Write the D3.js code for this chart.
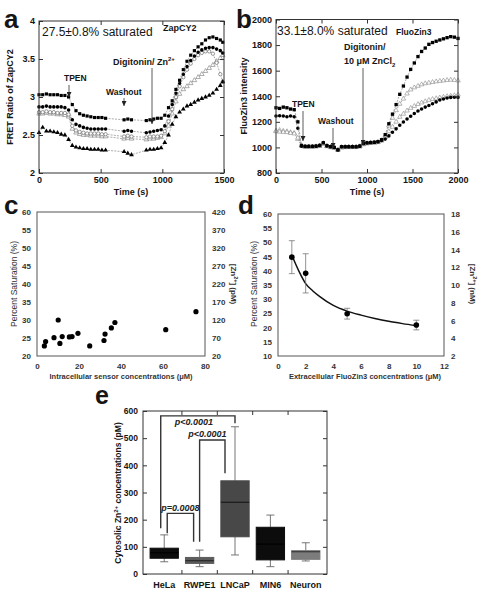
<!DOCTYPE html>
<html><head><meta charset="utf-8">
<script src="https://cdn.jsdelivr.net/npm/d3@7"></script>
<style>body{margin:0;background:#fff}svg{display:block}</style>
</head><body><script>
// ---------- DATA ----------
// Panel a: ZapCY2 FRET ratio traces
const aTime = [0,30,60,90,120,150,180,210,240,270,300,330,360,390,420,450,480,510,540,570,600,630,660,690,720,750,780,810,840,870,900,930,960,990,1020,1050,1080,1110,1140,1170,1200,1230,1260,1290,1320,1350,1380,1410,1440,1470,1490];
const aSquares = [3.03,3.03,3.04,3.03,3.03,3.03,3.02,3.02,3.0,2.9,2.82,2.78,2.76,2.75,2.74,2.73,2.73,2.73,2.72,null,null,null,null,2.70,2.71,2.70,null,null,null,2.69,2.70,2.71,2.72,2.72,2.76,2.86,2.95,3.1,3.22,3.36,3.47,3.55,3.61,3.66,3.7,3.75,3.78,3.79,3.77,3.75,3.72];
const aCircles = [2.87,2.87,2.88,2.87,2.87,2.87,2.87,2.86,2.83,2.70,2.64,2.62,2.60,2.59,2.58,2.58,2.58,2.58,2.58,null,null,null,null,2.55,2.56,2.55,null,null,null,2.53,2.54,2.55,2.56,2.57,2.62,2.75,2.9,3.05,3.18,3.3,3.4,3.48,3.54,3.59,3.62,3.64,3.65,3.65,3.63,3.61,3.58];
const aOpenCircles = [2.80,2.80,2.81,2.80,2.80,2.79,2.79,2.79,2.77,2.62,2.56,2.54,2.53,2.52,2.52,2.52,2.52,2.51,2.51,null,null,null,null,2.48,2.49,2.48,null,null,null,2.47,2.48,2.48,2.48,2.49,2.55,2.68,2.84,3.0,3.14,3.26,3.36,3.44,3.5,3.55,3.58,3.6,3.6,3.57,3.45,3.3,3.2];
const aOpenTriangles = [2.78,2.78,2.79,2.78,2.78,2.77,2.77,2.76,2.74,2.58,2.53,2.51,2.50,2.50,2.49,2.49,2.49,2.48,2.48,null,null,null,null,2.45,2.46,2.45,null,null,null,2.44,2.45,2.45,2.46,2.47,2.52,2.62,2.78,2.94,3.04,3.1,3.14,3.18,3.22,3.26,3.3,3.34,3.38,3.42,3.47,3.51,3.55];
const aTriangles = [2.53,2.60,2.55,2.55,2.54,2.53,2.51,2.50,2.44,2.36,2.34,2.33,2.32,2.32,2.31,2.31,2.31,2.30,2.30,null,null,null,null,2.28,2.26,2.24,null,null,null,2.30,2.31,2.31,2.32,2.33,2.40,2.50,2.64,2.74,2.8,2.84,2.88,2.9,2.93,2.96,2.98,3.0,3.02,3.05,3.1,3.15,3.2];
const aXTicks = [0,500,1000,1500];
const aYTicks = [2,2.5,3,3.5,4];

// Panel b: FluoZin3 intensity traces
const bTime = [0,40,80,120,160,200,240,280,320,360,400,440,480,520,560,600,640,680,720,760,800,840,880,920,960,1000,1040,1080,1120,1160,1200,1240,1280,1320,1360,1400,1440,1480,1520,1560,1600,1640,1680,1720,1760,1800,1840,1880,1920,1960,2000];
const bTop = [1310,1305,1315,1310,1300,1295,1200,1015,1008,1008,1008,1010,1015,1035,1012,1005,1000,980,1005,1005,1005,1005,1005,1010,1030,1035,1038,1040,1045,1060,1100,1185,1260,1335,1415,1480,1550,1610,1660,1710,1750,1777,1806,1820,1830,1840,1849,1858,1866,1862,1852];
const bGrayHigh = [1130,1135,1128,1125,1118,1112,1065,1012,1005,1005,1006,1008,1012,1030,1010,1003,998,982,1000,1002,1003,1003,1003,1008,1025,1032,1035,1037,1042,1055,1090,1170,1230,1290,1340,1380,1420,1452,1468,1480,1492,1500,1505,1510,1515,1519,1522,1526,1528,1526,1522];
const bGrayLow = [1125,1122,1120,1118,1112,1108,1075,1015,1003,1003,1004,1006,1010,1026,1008,1000,995,980,998,1000,1001,1001,1001,1006,1023,1030,1033,1035,1040,1052,1080,1125,1160,1200,1238,1262,1287,1308,1323,1338,1350,1360,1370,1377,1383,1389,1394,1399,1403,1407,1412];
const bBlackLow = [1245,1248,1245,1240,1245,1240,1150,1010,1008,1008,1008,1010,1016,1038,1014,1006,1000,982,1006,1006,1006,1006,1006,1010,1030,1036,1038,1040,1044,1055,1065,1090,1118,1145,1173,1198,1222,1244,1265,1284,1300,1315,1328,1342,1356,1370,1378,1386,1391,1392,1391];
const bXTicks = [0,500,1000,1500,2000];
const bYTicks = [800,1000,1200,1400,1600,1800,2000];

// Panel c: percent saturation vs intracellular sensor concentration
const cX = [3.5,4.1,8.1,10.1,10.9,12.0,15.4,16.7,19.5,25.1,31.9,32.4,35.4,37.1,61.3,75.7];
const cY = [22.8,24.0,25.1,30.0,23.5,25.4,25.3,25.4,26.3,22.8,24.3,26.1,27.8,29.3,27.3,32.3];
const cXTicks = [0,20,40,60,80];
const cYTicks = [20,25,30,35,40,45,50,55,60];
const cY2Ticks = [20,70,120,170,220,270,320,370,420];

// Panel d: percent saturation vs extracellular FluoZin3
const dX = [1,2,5,10];
const dY = [44.8,39.1,24.9,20.9];
const dErr = [5.8,6.9,1.9,1.7];
const dFitX = [1,1.5,2,2.5,3,4,5,6,7,8,9,10];
const dFitY = [45.5,40,35.5,33,31,27.8,25.8,24.4,23.2,22.2,21.4,20.7];
const dXTicks = [0,2,4,6,8,10,12];
const dYTicks = [10,15,20,25,30,35,40,45,50,55,60];
const dY2Ticks = [2,4,6,8,10,12,14,16,18];

// Panel e: box plots of cytosolic Zn2+
const eCats = ["HeLa","RWPE1","LNCaP","MIN6","Neuron"];
const eMin = [45,27,70,27,48];
const eQ1 = [58,39,137,52,54];
const eMed = [78,49,264,110,82];
const eQ3 = [95,61,343,172,86];
const eMax = [144,88,542,217,115];
const eYTicks = [0,100,200,300,400,500,600];
const brFrom = ["HeLa","RWPE1","HeLa"];
const brTo = ["LNCaP","LNCaP","RWPE1"];
const brTop = [582,493,223];
const brLeftEnd = [168,119,150];
const brRightEnd = [555,371,119];
const brLabel = ["p<0.0001","p<0.0001","p=0.0008"];

// ---------- DRAWING ----------
const FONT = 'Arial, "Liberation Sans", Helvetica, sans-serif';
const INK = "#151515";
const svg = d3.select("body").append("svg").attr("width",479).attr("height",600)
  .attr("font-family",FONT);

svg.append("defs").append("marker").attr("id","ah").attr("viewBox","0 0 6 6")
  .attr("refX",6).attr("refY",3).attr("markerWidth",5).attr("markerHeight",5)
  .attr("markerUnits","userSpaceOnUse").attr("orient","auto")
  .append("path").attr("d","M0,0L6,3L0,6Z").attr("fill","#222");

function text(x,y,s,o={}){
  const t = svg.append("text").attr("x",x).attr("y",y).text(s)
    .attr("font-size",o.size||9).attr("font-weight",o.weight||"bold")
    .attr("fill",o.fill||INK).attr("text-anchor",o.anchor||"start");
  if(o.rotate!==undefined) t.attr("transform",`rotate(${o.rotate},${x},${y})`);
  if(o.italic) t.attr("font-style","italic");
  return t;
}
function frame(x,y,stroke,w){
  svg.append("rect").attr("x",x.range()[0]).attr("y",y.range()[1])
    .attr("width",x.range()[1]-x.range()[0]).attr("height",y.range()[0]-y.range()[1])
    .attr("fill","none").attr("stroke",stroke).attr("stroke-width",w||1);
}
function styleAxis(g,size,weight,fill){
  g.attr("font-family",FONT);
  g.select(".domain").remove();
  g.selectAll("line").attr("stroke","#333");
  g.selectAll("text").attr("font-size",size).attr("font-weight",weight).attr("fill",fill||INK);
}
function boxAxes(x,y,xt,yt){
  const [x0,x1]=x.range(), [yb,yt0]=y.range();
  svg.append("g").attr("transform",`translate(0,${yb})`)
    .call(d3.axisBottom(x).tickValues(xt).tickSize(-4).tickPadding(4).tickFormat(d=>String(d)))
    .call(g=>styleAxis(g,9,"bold"));
  svg.append("g").attr("transform",`translate(0,${yt0})`)
    .call(d3.axisTop(x).tickValues(xt).tickSize(-4).tickFormat(""))
    .call(g=>styleAxis(g,9,"bold"));
  svg.append("g").attr("transform",`translate(${x0},0)`)
    .call(d3.axisLeft(y).tickValues(yt).tickSize(-4).tickPadding(4).tickFormat(d=>String(d)))
    .call(g=>styleAxis(g,9,"bold"));
  svg.append("g").attr("transform",`translate(${x1},0)`)
    .call(d3.axisRight(y).tickValues(yt).tickSize(-4).tickFormat(""))
    .call(g=>styleAxis(g,9,"bold"));
  frame(x,y,"#333",1);
}
function arrow(x,y1,y2){
  svg.append("line").attr("x1",x).attr("x2",x).attr("y1",y1).attr("y2",y2)
    .attr("stroke","#333").attr("stroke-width",0.8).attr("marker-end","url(#ah)");
}
function drawSeries(x,y,times,vals,st){
  const pts = times.map((t,i)=>({t,v:vals[i]})).filter(d=>d.v!=null);
  svg.append("path").datum(pts)
    .attr("d",d3.line().x(d=>x(d.t)).y(d=>y(d.v)))
    .attr("fill","none").attr("stroke","#888").attr("stroke-width",0.7)
    .attr("stroke-dasharray","2,1.2");
  svg.append("g").selectAll("path").data(pts).join("path")
    .attr("transform",d=>`translate(${x(d.t)},${y(d.v)})`)
    .attr("d",d3.symbol().type(st.type).size(st.size||10))
    .attr("fill",st.fill).attr("stroke",st.stroke||"none").attr("stroke-width",0.6);
}

// Panel labels
text(4,28,"a",{size:26});
text(236,28,"b",{size:26});
text(4,214,"c",{size:26});
text(238,214,"d",{size:26});
text(95,404,"e",{size:25});

// ----- Panel a -----
const xA = d3.scaleLinear().domain([0,1500]).range([39,224]);
const yA = d3.scaleLinear().domain([2,4]).range([173,21]);
drawSeries(xA,yA,aTime,aOpenTriangles,{type:d3.symbolTriangle,fill:"#fff",stroke:"#777",size:9});
drawSeries(xA,yA,aTime,aOpenCircles,{type:d3.symbolCircle,fill:"#fff",stroke:"#555",size:9});
drawSeries(xA,yA,aTime,aTriangles,{type:d3.symbolTriangle,fill:"#000",size:10});
drawSeries(xA,yA,aTime,aCircles,{type:d3.symbolCircle,fill:"#000",size:10});
drawSeries(xA,yA,aTime,aSquares,{type:d3.symbolSquare,fill:"#000",size:10});
boxAxes(xA,yA,aXTicks,aYTicks);
text(131,195,"Time (s)",{anchor:"middle",size:9});
text(13,97,"FRET Ratio of ZapCY2",{anchor:"middle",rotate:-90,size:9});
text(42,36,"27.5±0.8% saturated",{size:12,weight:"normal"});
text(163,31,"ZapCY2",{size:9});
{
  const t = text(113,65,"Digitonin/ Zn",{size:9});
  t.append("tspan").attr("dy",-4).attr("font-size",6).text("2+");
}
arrow(152,68,124);
text(64,81,"TPEN",{size:8.5});
arrow(69,85,97);
text(106,95,"Washout",{size:8.5});
arrow(124,98,106);

// ----- Panel b -----
const xB = d3.scaleLinear().domain([0,2000]).range([276,458]);
const yB = d3.scaleLinear().domain([800,2000]).range([173,19.5]);
drawSeries(xB,yB,bTime,bGrayHigh,{type:d3.symbolTriangle,fill:"#fff",stroke:"#888",size:9});
drawSeries(xB,yB,bTime,bGrayLow,{type:d3.symbolTriangle,fill:"#fff",stroke:"#888",size:9});
drawSeries(xB,yB,bTime,bBlackLow,{type:d3.symbolCircle,fill:"#000",size:10});
drawSeries(xB,yB,bTime,bTop,{type:d3.symbolSquare,fill:"#000",size:11});
boxAxes(xB,yB,bXTicks,bYTicks);
text(367,195,"Time (s)",{anchor:"middle",size:9});
text(247,96,"FluoZin3 intensity",{anchor:"middle",rotate:-90,size:9});
text(277,35,"33.1±8.0% saturated",{size:12,weight:"normal"});
text(396,35,"FluoZin3",{size:8.5});
text(344,50,"Digitonin/",{size:9});
{
  const t = text(344,64,"10 μM ZnCl",{size:9});
  t.append("tspan").attr("dy",3).attr("font-size",6).text("2");
}
arrow(363,68,145);
text(292,107,"TPEN",{size:8.5});
arrow(303,111,141);
text(318,124,"Washout",{size:8.5});
arrow(333,128,148);

// ----- Panel c -----
const xC = d3.scaleLinear().domain([0,80]).range([37,205]);
const yC = d3.scaleLinear().domain([20,60]).range([356,212]);
const yC2 = d3.scaleLinear().domain([20,420]).range([356,212]);
function excelAxes(x,y,y2,xt,yt,y2t){
  const [x0,x1]=x.range(), [yb]=y.range();
  svg.append("g").attr("transform",`translate(0,${yb})`)
    .call(d3.axisBottom(x).tickValues(xt).tickSize(0).tickPadding(7).tickFormat(d=>String(d)))
    .call(g=>styleAxis(g,8,"bold","#333"));
  svg.append("g").attr("transform",`translate(${x0},0)`)
    .call(d3.axisLeft(y).tickValues(yt).tickSize(0).tickPadding(6).tickFormat(d=>String(d)))
    .call(g=>styleAxis(g,8,"bold","#333"));
  svg.append("g").attr("transform",`translate(${x1},0)`)
    .call(d3.axisRight(y2).tickValues(y2t).tickSize(0).tickPadding(7).tickFormat(d=>String(d)))
    .call(g=>styleAxis(g,8,"bold","#333"));
  frame(x,y,"#555",1);
}
excelAxes(xC,yC,yC2,cXTicks,cYTicks,cY2Ticks);
svg.append("g").selectAll("circle").data(cX).join("circle")
  .attr("cx",d=>xC(d)).attr("cy",(d,i)=>yC(cY[i])).attr("r",2.6).attr("fill","#000");
text(121,379,"Intracellular sensor concentrations (μM)",{anchor:"middle",size:7.5,fill:"#333"});
text(17,284,"Percent Saturation (%)",{anchor:"middle",rotate:-90,size:8.5,weight:"normal",fill:"#333"});
{
  const t = text(231,284,"[Zn",{anchor:"middle",rotate:90,size:8,fill:"#333"});
  t.append("tspan").attr("dy",-3).attr("font-size",5.5).text("2+");
  t.append("tspan").attr("dy",3).text("] (pM)");
}

// ----- Panel d -----
const xD = d3.scaleLinear().domain([0,12]).range([278,444]);
const yD = d3.scaleLinear().domain([10,60]).range([356,214]);
const yD2 = d3.scaleLinear().domain([2,18]).range([356,214]);
excelAxes(xD,yD,yD2,dXTicks,dYTicks,dY2Ticks);
svg.append("path").datum(dFitX.map((x,i)=>[x,dFitY[i]]))
  .attr("d",d3.line().x(d=>xD(d[0])).y(d=>yD(d[1])).curve(d3.curveMonotoneX))
  .attr("fill","none").attr("stroke","#111").attr("stroke-width",1.5);
const eb = svg.append("g").attr("stroke","#777").attr("stroke-width",0.8);
dX.forEach((x,i)=>{
  const cx=xD(x), t=yD(dY[i]+dErr[i]), b=yD(dY[i]-dErr[i]);
  eb.append("line").attr("x1",cx).attr("x2",cx).attr("y1",t).attr("y2",b);
  eb.append("line").attr("x1",cx-3).attr("x2",cx+3).attr("y1",t).attr("y2",t);
  eb.append("line").attr("x1",cx-3).attr("x2",cx+3).attr("y1",b).attr("y2",b);
});
svg.append("g").selectAll("circle").data(dX).join("circle")
  .attr("cx",d=>xD(d)).attr("cy",(d,i)=>yD(dY[i])).attr("r",2.8).attr("fill","#000");
text(365,379,"Extracellular FluoZin3 concentrations (μM)",{anchor:"middle",size:7.5,fill:"#333"});
text(257,284,"Percent Saturation (%)",{anchor:"middle",rotate:-90,size:8.5,weight:"normal",fill:"#333"});
{
  const t = text(470,284,"[Zn",{anchor:"middle",rotate:90,size:8,fill:"#333"});
  t.append("tspan").attr("dy",-3).attr("font-size",5.5).text("2+");
  t.append("tspan").attr("dy",3).text("] (nM)");
}

// ----- Panel e -----
const xE = d3.scaleBand().domain(eCats).range([143,327]).padding(0.2);
const yE = d3.scaleLinear().domain([0,600]).range([574,411]);
const eFill = {"HeLa":"#0c0c0c","RWPE1":"#5c5c5c","LNCaP":"#484848","MIN6":"#0c0c0c","Neuron":"#7c7c7c"};
const eMedCol = {"HeLa":"#000","RWPE1":"#2a2a2a","LNCaP":"#1a1a1a","MIN6":"#000","Neuron":"#3a3a3a"};
const bw = xE.bandwidth();
const wk = svg.append("g").attr("stroke","#666").attr("stroke-width",0.9);
eCats.forEach((c,i)=>{
  const cx = xE(c)+bw/2;
  wk.append("line").attr("x1",cx).attr("x2",cx).attr("y1",yE(eQ3[i])).attr("y2",yE(eMax[i]));
  wk.append("line").attr("x1",cx).attr("x2",cx).attr("y1",yE(eQ1[i])).attr("y2",yE(eMin[i]));
  wk.append("line").attr("x1",cx-4).attr("x2",cx+4).attr("y1",yE(eMax[i])).attr("y2",yE(eMax[i]));
  wk.append("line").attr("x1",cx-4).attr("x2",cx+4).attr("y1",yE(eMin[i])).attr("y2",yE(eMin[i]));
});
svg.append("g").selectAll("rect").data(eCats).join("rect")
  .attr("x",c=>xE(c)).attr("width",bw)
  .attr("y",(c,i)=>yE(eQ3[i])).attr("height",(c,i)=>yE(eQ1[i])-yE(eQ3[i]))
  .attr("fill",c=>eFill[c]).attr("stroke",c=>eFill[c]);
svg.append("g").selectAll("line").data(eCats).join("line")
  .attr("x1",c=>xE(c)).attr("x2",c=>xE(c)+bw)
  .attr("y1",(c,i)=>yE(eMed[i])).attr("y2",(c,i)=>yE(eMed[i]))
  .attr("stroke",c=>eMedCol[c]).attr("stroke-width",1.2);
svg.append("g").attr("transform","translate(143,0)")
  .call(d3.axisLeft(yE).tickValues(eYTicks).tickSize(-4).tickPadding(5).tickFormat(d=>String(d)))
  .call(g=>styleAxis(g,8.5,"bold"));
svg.append("g").attr("transform","translate(327,0)")
  .call(d3.axisRight(yE).tickValues(eYTicks).tickSize(-4).tickFormat(""))
  .call(g=>styleAxis(g,8.5,"bold"));
svg.append("g").attr("transform","translate(0,574)")
  .call(d3.axisBottom(xE).tickSize(0).tickPadding(8))
  .call(g=>styleAxis(g,9,"bold"));
const bounds = eCats.slice(1).map((c,i)=>(xE(eCats[i])+bw+xE(c))/2);
const bt = svg.append("g").attr("stroke","#333");
bounds.forEach(b=>{
  bt.append("line").attr("x1",b).attr("x2",b).attr("y1",574).attr("y2",570);
  bt.append("line").attr("x1",b).attr("x2",b).attr("y1",411).attr("y2",415);
});
frame(d3.scaleLinear().range([143,327]),yE,"#333",1);
{
  const t = text(121,493,"Cytosolic Zn",{anchor:"middle",rotate:-90,size:8.5});
  t.append("tspan").attr("dy",-3).attr("font-size",6).text("2+");
  t.append("tspan").attr("dy",3).text(" concentrations (pM)");
}
const legOff = [[-3.5,0],[0,-10],[3,-6]];
const labPos = [[-4,9],[-5,-3],[0,-2.5]];
const br = svg.append("g").attr("fill","none").attr("stroke","#333").attr("stroke-width",1.4);
brFrom.forEach((f,i)=>{
  const xl = xE(f)+bw/2+legOff[i][0], xr = xE(brTo[i])+bw/2+legOff[i][1];
  const yt = yE(brTop[i]);
  br.append("path").attr("d",`M${xl},${yE(brLeftEnd[i])}V${yt}H${xr}V${yE(brRightEnd[i])}`);
  text((xl+xr)/2+labPos[i][0], yt+labPos[i][1], brLabel[i],{anchor:"middle",size:9,italic:true,fill:"#222"});
});
</script></body></html>
